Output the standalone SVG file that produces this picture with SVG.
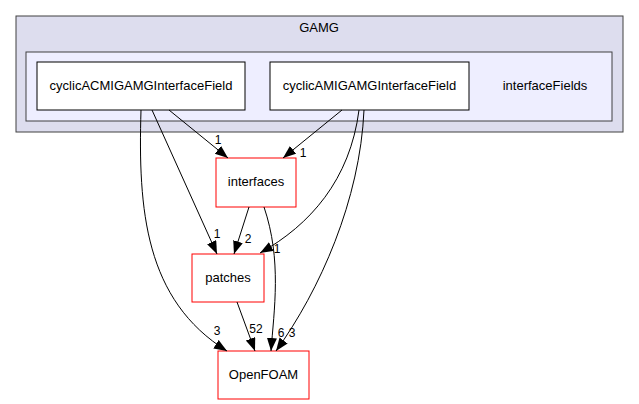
<svg xmlns="http://www.w3.org/2000/svg" width="639" height="404" viewBox="0 0 639 404">
<style>
text{font-family:"Liberation Sans",Arial,sans-serif;font-size:13px;fill:#000;text-anchor:middle}
.l{font-size:12px}
.e{fill:none;stroke:#000;stroke-width:1}
.n{fill:#fff;stroke:#000;stroke-width:1}
.r{fill:#fff;stroke:#ff0000;stroke-width:1}
</style>
<defs>
<marker id="a" markerUnits="userSpaceOnUse" markerWidth="14" markerHeight="11" refX="13" refY="5" orient="auto">
<path d="M0,0 L13,5 L0,10 z" fill="#000"/>
</marker>
</defs>
<rect width="639" height="404" fill="#fff"/>
<g id="cluster_GAMG">
<rect x="16" y="16" width="607" height="116" fill="#ddddee" stroke="#404040"/>
<text x="319" y="32">GAMG</text>
</g>
<g id="cluster_interfaceFields">
<rect x="26" y="52" width="586" height="69" fill="#eeeeff" stroke="#404040"/>
<text x="545" y="90">interfaceFields</text>
</g>
<g id="node_cyclicACMIGAMGInterfaceField">
<rect class="n" x="37" y="62" width="208" height="48"/>
<text x="141" y="90">cyclicACMIGAMGInterfaceField</text>
</g>
<g id="node_cyclicAMIGAMGInterfaceField">
<rect class="n" x="270" y="62" width="199" height="48"/>
<text x="369.5" y="90">cyclicAMIGAMGInterfaceField</text>
</g>
<g id="node_interfaces">
<rect class="r" x="216" y="158" width="80" height="49"/>
<text x="256" y="186">interfaces</text>
</g>
<g id="node_patches">
<rect class="r" x="192" y="254" width="72" height="48"/>
<text x="228" y="282">patches</text>
</g>
<g id="node_OpenFOAM">
<rect class="r" x="218" y="351" width="91" height="48"/>
<text x="263.5" y="379">OpenFOAM</text>
</g>
<g id="edges">
<path class="e" marker-end="url(#a)" d="M169,110 L228,158"/>
<text class="l" x="218" y="144">1</text>
<path class="e" marker-end="url(#a)" d="M342,110 L283,158"/>
<text class="l" x="303" y="157">1</text>
<path class="e" marker-end="url(#a)" d="M152,110 L217,254"/>
<text class="l" x="217" y="238">1</text>
<path class="e" marker-end="url(#a)" d="M141,110 C138,210 145,300 227,351"/>
<text class="l" x="217" y="335">3</text>
<path class="e" marker-end="url(#a)" d="M359,110 C350,180 310,225 260,253"/>
<text class="l" x="277" y="253">1</text>
<path class="e" marker-end="url(#a)" d="M364,110 C360,200 320,290 276,351"/>
<text class="l" x="292" y="337">3</text>
<path class="e" marker-end="url(#a)" d="M249,207 L234,254"/>
<text class="l" x="248" y="243">2</text>
<path class="e" marker-end="url(#a)" d="M264,207 C282,260 274,310 271,351"/>
<text class="l" x="281" y="337">6</text>
<path class="e" marker-end="url(#a)" d="M237,302 L255,351"/>
<text class="l" x="256" y="333">52</text>
</g>
</svg>
